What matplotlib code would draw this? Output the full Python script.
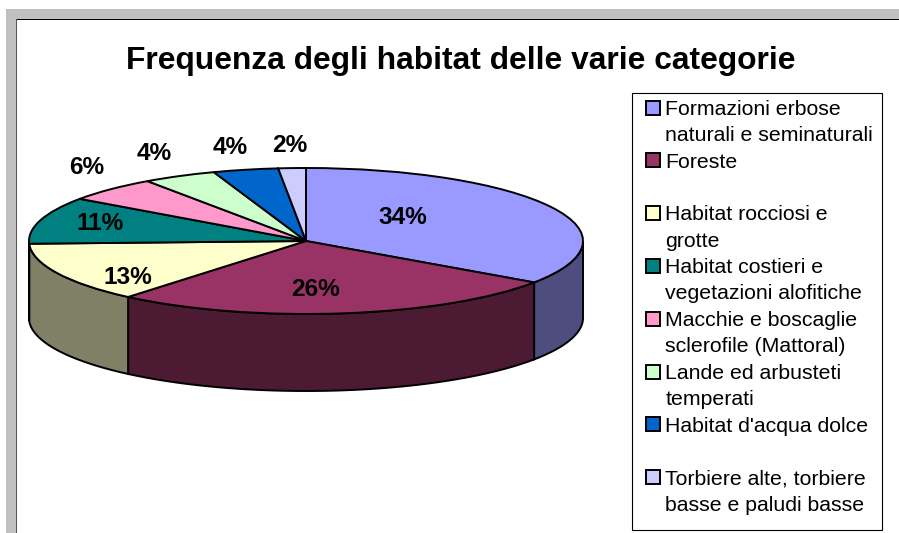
import numpy as np
import matplotlib
matplotlib.use("Agg")
import matplotlib.pyplot as plt
from matplotlib.patches import Rectangle, Polygon
from matplotlib.legend_handler import HandlerPatch

title = "Frequenza degli habitat delle varie categorie"
categories = [
    "Formazioni erbose\nnaturali e seminaturali",
    "Foreste\n ",
    "Habitat rocciosi e\ngrotte",
    "Habitat costieri e\nvegetazioni alofitiche",
    "Macchie e boscaglie\nsclerofile (Mattoral)",
    "Lande ed arbusteti\ntemperati",
    "Habitat d'acqua dolce\n ",
    "Torbiere alte, torbiere\nbasse e paludi basse",
]
# Sizes as seen in the drawn pie, with the printed percentages alongside
values = [34.6, 26.5, 13.3, 10.4, 5.5, 4.3, 3.8, 1.6]
pct_labels = ["34%", "26%", "13%", "11%", "6%", "4%", "4%", "2%"]
colors = ["#9999FF", "#993366", "#FFFFCC", "#008080",
          "#FF99CC", "#CCFFCC", "#0066CC", "#CCCCFF"]
label_px = [(403, 218), (316, 289), (128, 278), (100, 224),
            (87, 168), (154, 153), (230, 147), (290, 145)]

W, H = 899, 533
CX, CY, RX, RY, DEPTH = 306, 241, 277, 73, 77
plt.rcParams["font.family"] = ["Liberation Sans", "DejaVu Sans"]

fig = plt.figure(figsize=(W / 100, H / 100), dpi=100, facecolor="white")

def figrect(x0, y0, x1, y1, color, edge="none", lw=0):
    fig.patches.append(Rectangle((x0 / W, 1 - y1 / H), (x1 - x0) / W, (y1 - y0) / H,
                                 transform=fig.transFigure, facecolor=color,
                                 edgecolor=edge, linewidth=lw, figure=fig, zorder=-1))

figrect(6, 9, W, 19, "#C0C0C0")
figrect(6, 9, 16, H, "#C0C0C0")
figrect(16, 19, W, 20, "#000000")
figrect(16, 19, 17, H, "#555555")
figrect(632, 93, 882, 530, "white", edge="black", lw=0.8)

ax = fig.add_axes([0, 0, 1, 1])
ax.patch.set_alpha(0)
wedges, _ = ax.pie(values, colors=colors, startangle=90, counterclock=False, radius=1,
                   wedgeprops=dict(edgecolor="black", linewidth=1.4, zorder=3))
ax.set_aspect("auto")
ax.set_xlim((0 - CX) / RX, (W - CX) / RX)
ax.set_ylim((CY - H) / RY, CY / RY)

def px(x, y):
    return (x - CX) / RX, (CY - y) / RY

# Side wall of the disc: only the front half (90..270 degrees clockwise from top)
depth = DEPTH / RY
edges = np.concatenate([[0], np.cumsum(values)]) / sum(values) * 360
for a0, a1, c in zip(edges[:-1], edges[1:], colors):
    lo, hi = max(a0, 90), min(a1, 270)
    if hi <= lo:
        continue
    t = np.radians(np.linspace(lo, hi, 80))
    xs, ys = np.sin(t), np.cos(t)
    pts = np.vstack([np.c_[xs, ys], np.c_[xs[::-1], ys[::-1] - depth]])
    shade = tuple(0.5 * v for v in matplotlib.colors.to_rgb(c))
    ax.add_patch(Polygon(pts, closed=True, facecolor=shade, edgecolor="black",
                         linewidth=1.4, zorder=2))

for s, (x, y) in zip(pct_labels, label_px):
    ax.text(*px(x, y), s, ha="center", va="center", fontsize=17.6,
            fontweight="bold", color="black", zorder=5)

fig.text(461 / W, 1 - 61 / H, title, ha="center", va="center",
         fontsize=22.9, fontweight="bold", color="black")


class FirstLineHandler(HandlerPatch):
    """Legend swatch beside the first line of a two-line label."""
    def create_artists(self, legend, orig_handle, xdescent, ydescent, width, height,
                       fontsize, trans):
        p = Rectangle((-xdescent + 5.5, -ydescent + 10.8), 10, 10)
        self.update_prop(p, orig_handle, legend)
        p.set_transform(trans)
        return [p]


leg = ax.legend(wedges, categories, loc="upper left",
                bbox_to_anchor=(632 / W, 1 - 93 / H), bbox_transform=fig.transFigure,
                fontsize=15.35, frameon=False,
                borderaxespad=0, borderpad=0.32, labelspacing=0.36,
                handlelength=1.0, handleheight=0.65, handletextpad=0.25,
                handler_map={matplotlib.patches.Wedge: FirstLineHandler()})
for t in leg.get_texts():
    t.set_linespacing(1.475)
    t.set_color("black")
for h in leg.get_patches():
    h.set_linewidth(1.4)

fig.savefig("out.png", dpi=100)
